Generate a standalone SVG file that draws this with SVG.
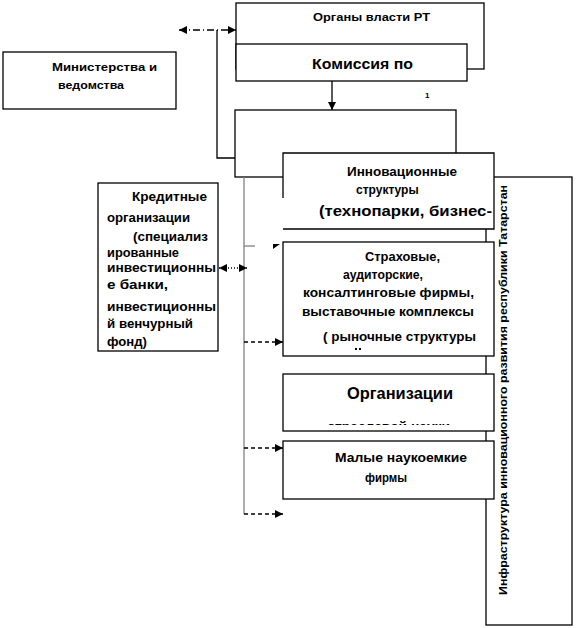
<svg xmlns="http://www.w3.org/2000/svg" width="576" height="628" viewBox="0 0 576 628">
<defs>
<style>
.box{fill:#fff;stroke:#000;stroke-width:1.3}
.ln{fill:none;stroke:#000;stroke-width:1.3}
.t{font-family:"Liberation Sans",Arial,sans-serif;font-weight:bold;fill:#000}
.s11{font-size:11px}
.s12{font-size:12px}
.s15{font-size:15px}
.s16{font-size:16px}
.gray{stroke:#808080;stroke-width:1.3;fill:none}
</style>
<marker id="ah" viewBox="0 0 10 10" refX="10" refY="5" markerWidth="8" markerHeight="8" markerUnits="userSpaceOnUse" orient="auto-start-reverse">
<path d="M0,0 L10,5 L0,10 z" fill="#000"/>
</marker>
<clipPath id="clipOrg"><rect x="283" y="374" width="211" height="51"/></clipPath>
</defs>
<rect width="576" height="628" fill="#fff"/>

<g id="infra">
<rect class="box" x="486" y="177" width="86" height="448"/>
<text class="t s11" transform="translate(507,390) rotate(-90)" text-anchor="middle" textLength="410" lengthAdjust="spacingAndGlyphs">Инфраструктура инновационного развития республики Татарстан</text>
</g>

<g id="organy">
<rect class="box" x="236" y="3" width="248" height="66"/>
<text class="t s11" x="313" y="21" textLength="117" lengthAdjust="spacingAndGlyphs">Органы власти РТ</text>
</g>

<g id="komissiya">
<rect class="box" x="236" y="44" width="231" height="37"/>
<text class="t s15" x="312" y="69" textLength="101" lengthAdjust="spacingAndGlyphs">Комиссия по</text>
<text class="t" style="font-size:8px" x="425" y="98">1</text>
</g>

<g id="ministerstva">
<rect class="box" x="3" y="52" width="173" height="57"/>
<text class="t s11" x="52" y="71" textLength="105" lengthAdjust="spacingAndGlyphs">Министерства и</text>
<text class="t s11" x="58" y="89" textLength="66" lengthAdjust="spacingAndGlyphs">ведомства</text>
</g>

<g id="third">
<rect class="box" x="235" y="110" width="221" height="67"/>
</g>

<g id="innov">
<rect x="283" y="153" width="211" height="76" fill="#fff"/>
<path class="ln" d="M283,198 V153 H494 V229 H283"/>
<text class="t s12" x="347" y="176" textLength="110" lengthAdjust="spacingAndGlyphs">Инновационные</text>
<text class="t s12" x="356" y="194">структуры</text>
<text class="t s15" x="319" y="216" textLength="173" lengthAdjust="spacingAndGlyphs">(технопарки, бизнес-</text>
</g>

<g id="kredit">
<rect class="box" x="98" y="183" width="120" height="168"/>
<g class="t s12">
<text x="132" y="201" textLength="75" lengthAdjust="spacingAndGlyphs">Кредитные</text>
<text x="107" y="222" textLength="83" lengthAdjust="spacingAndGlyphs">организации</text>
<text x="133" y="241" textLength="75" lengthAdjust="spacingAndGlyphs">(специализ</text>
<text x="107" y="257" textLength="72" lengthAdjust="spacingAndGlyphs">ированные</text>
<text x="107" y="272" textLength="109" lengthAdjust="spacingAndGlyphs">инвестиционны</text>
<text x="107" y="289" textLength="61" lengthAdjust="spacingAndGlyphs">е банки,</text>
<text x="107" y="311" textLength="109" lengthAdjust="spacingAndGlyphs">инвестиционны</text>
<text x="107" y="328" textLength="86" lengthAdjust="spacingAndGlyphs">й венчурный</text>
<text x="107" y="346" textLength="40" lengthAdjust="spacingAndGlyphs">фонд)</text>
</g>
</g>

<g id="strah">
<rect class="box" x="283" y="242" width="211" height="114"/>
<g class="t s12">
<text x="365" y="261" textLength="75" lengthAdjust="spacingAndGlyphs">Страховые,</text>
<text x="343" y="279" textLength="80" lengthAdjust="spacingAndGlyphs">аудиторские,</text>
<text x="303" y="297" textLength="171" lengthAdjust="spacingAndGlyphs">консалтинговые фирмы,</text>
<text x="302" y="316" textLength="172" lengthAdjust="spacingAndGlyphs">выставочные комплексы</text>
<text x="323" y="341" textLength="153" lengthAdjust="spacingAndGlyphs">( рыночные структуры</text>
</g>
<rect x="355" y="348" width="2" height="2" fill="#000"/>
<rect x="359" y="348" width="2" height="2" fill="#000"/>
</g>

<g id="org">
<rect class="box" x="283" y="374" width="211" height="57"/>
<text class="t s16" x="347" y="399" textLength="106" lengthAdjust="spacingAndGlyphs">Организации</text>
<text class="t s15" x="327" y="432" clip-path="url(#clipOrg)" textLength="123" lengthAdjust="spacingAndGlyphs">отраслевой науки</text>
</g>

<g id="malye">
<rect class="box" x="283" y="441" width="211" height="58"/>
<text class="t s12" x="335" y="462" textLength="132" lengthAdjust="spacingAndGlyphs">Малые наукоемкие</text>
<text class="t s12" x="365" y="482" textLength="42" lengthAdjust="spacingAndGlyphs">фирмы</text>
</g>

<g id="connectors">
<line class="ln" x1="179" y1="30" x2="236" y2="30" stroke-dasharray="7,3,1,3" marker-start="url(#ah)" marker-end="url(#ah)"/>
<polyline class="ln" points="217,30 217,158 235,158"/>
<line class="ln" x1="332" y1="81" x2="332" y2="110" marker-end="url(#ah)"/>
<line class="gray" x1="244" y1="177" x2="244" y2="514"/>
<line class="gray" x1="244" y1="246" x2="255" y2="246"/>
<polygon points="273,244 280,244 273,249" fill="#000"/>
<line class="ln" stroke-width="1" x1="219" y1="268" x2="247" y2="268" stroke-dasharray="1,2" marker-start="url(#ah)" marker-end="url(#ah)"/>
<line class="ln" stroke-width="1" x1="244" y1="342" x2="283" y2="342" stroke-dasharray="4,3" marker-end="url(#ah)"/>
<line class="ln" stroke-width="1" x1="244" y1="448" x2="283" y2="448" stroke-dasharray="4,3" marker-end="url(#ah)"/>
<line class="ln" stroke-width="1" x1="244" y1="514" x2="283" y2="514" stroke-dasharray="4,3" marker-end="url(#ah)"/>
</g>
</svg>
